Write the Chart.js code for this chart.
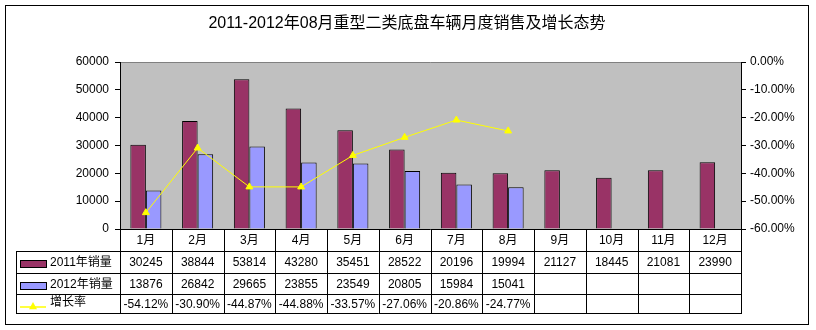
<!DOCTYPE html>
<html>
<head>
<meta charset="utf-8">
<script src="https://cdn.jsdelivr.net/npm/chart.js@4/dist/chart.umd.min.js"></script>
<style>
  html, body { margin: 0; padding: 0; background: #fff; }
  #wrap { width: 816px; height: 330px; }
</style>
</head>
<body>
<div id="wrap"><canvas id="chart" width="816" height="330"></canvas></div>
<script>
// data
const title = '2011-2012年08月重型二类底盘车辆月度销售及增长态势';
const months = ['1月', '2月', '3月', '4月', '5月', '6月', '7月', '8月', '9月', '10月', '11月', '12月'];
const label2011 = '2011年销量';
const label2012 = '2012年销量';
const labelGrowth = '增长率';
const sales2011 = [30245, 38844, 53814, 43280, 35451, 28522, 20196, 19994, 21127, 18445, 21081, 23990];
const sales2012 = [13876, 26842, 29665, 23855, 23549, 20805, 15984, 15041];
const growth = [-54.12, -30.90, -44.87, -44.88, -33.57, -27.06, -20.86, -24.77];

const FONT = '"Liberation Sans", "Noto Sans CJK SC", sans-serif';
const C2011 = '#993366', C2012 = '#9999FF', CLINE = '#FFFF00';

// table rows under the plot (heights in px)
const rowH = [22, 22, 21, 19];
const tableLeft = 16;

function triangle(ctx, x, y, r) {
  ctx.beginPath();
  ctx.moveTo(x, y - r);
  ctx.lineTo(x + r, y + r * 0.8);
  ctx.lineTo(x - r, y + r * 0.8);
  ctx.closePath();
  ctx.fill();
}

const framePlugin = {
  id: 'frame',
  beforeDraw(chart) {
    const { ctx, chartArea: a } = chart;
    ctx.save();
    ctx.fillStyle = '#fff';
    ctx.fillRect(0, 0, chart.width, chart.height);
    ctx.strokeStyle = '#000';
    ctx.lineWidth = 1;
    ctx.strokeRect(5.5, 5.5, 803, 319);
    ctx.fillStyle = '#C0C0C0';
    ctx.fillRect(a.left, a.top, a.right - a.left, a.bottom - a.top);
    ctx.strokeStyle = '#808080';
    ctx.beginPath();
    ctx.moveTo(a.left, a.top + 0.5);
    ctx.lineTo(a.right, a.top + 0.5);
    ctx.stroke();
    // title
    ctx.fillStyle = '#000';
    ctx.font = '16px ' + FONT;
    ctx.textAlign = 'center';
    ctx.textBaseline = 'middle';
    ctx.fillText(title, 407, 24);
    ctx.restore();
  },
  afterDraw(chart) {
    const { ctx, chartArea: a, scales: { x } } = chart;
    const w = (a.right - a.left) / months.length;
    const ys = [a.bottom];
    rowH.forEach(h => ys.push(ys[ys.length - 1] + h));
    const bottom = ys[ys.length - 1];
    ctx.save();
    ctx.strokeStyle = '#000';
    ctx.lineWidth = 1;
    ctx.beginPath();
    ctx.moveTo(a.left, Math.round(ys[0]) + 0.5);
    ctx.lineTo(a.right, Math.round(ys[0]) + 0.5);
    for (let r = 1; r < ys.length; r++) {
      ctx.moveTo(tableLeft, Math.round(ys[r]) + 0.5);
      ctx.lineTo(a.right, Math.round(ys[r]) + 0.5);
    }
    ctx.moveTo(tableLeft + 0.5, ys[1]);
    ctx.lineTo(tableLeft + 0.5, bottom + 1);
    ctx.moveTo(Math.round(a.left) + 0.5, ys[0]);
    ctx.lineTo(Math.round(a.left) + 0.5, bottom + 1);
    months.forEach((m, i) => {
      const xr = Math.round(x.getPixelForValue(i) + w / 2) + 0.5;
      ctx.moveTo(xr, ys[0]);
      ctx.lineTo(xr, bottom + 1);
    });
    ctx.stroke();

    ctx.fillStyle = '#000';
    ctx.font = '12px ' + FONT;
    ctx.textAlign = 'center';
    ctx.textBaseline = 'middle';
    const mid = r => (ys[r] + ys[r + 1]) / 2 + 1;
    months.forEach((m, i) => {
      const cx = x.getPixelForValue(i);
      ctx.fillText(m, cx, mid(0));
      ctx.fillText(String(sales2011[i]), cx, mid(1));
      if (i < sales2012.length) ctx.fillText(String(sales2012[i]), cx, mid(2));
      if (i < growth.length) ctx.fillText(growth[i].toFixed(2) + '%', cx, mid(3));
    });

    // legend keys
    ctx.textAlign = 'left';
    ctx.fillText(label2011, 50, mid(1));
    ctx.fillText(label2012, 50, mid(2));
    ctx.fillText(labelGrowth, 50, mid(3) - 2);
    [[C2011, 1], [C2012, 2]].forEach(([c, r]) => {
      const y = Math.round(mid(r)) - 3;
      ctx.fillStyle = c;
      ctx.fillRect(20, y, 26, 7);
      ctx.strokeRect(20.5, y + 0.5, 26, 7);
    });
    ctx.strokeStyle = CLINE;
    ctx.lineWidth = 1.5;
    ctx.beginPath();
    ctx.moveTo(20, Math.round(mid(3)) + 2);
    ctx.lineTo(46, Math.round(mid(3)) + 2);
    ctx.stroke();
    ctx.fillStyle = CLINE;
    triangle(ctx, 33, Math.round(mid(3)) + 1, 4);
    ctx.restore();
  }
};

new Chart(document.getElementById('chart'), {
  data: {
    labels: months,
    datasets: [
      {
        type: 'line', label: labelGrowth, data: growth, yAxisID: 'y1',
        borderColor: CLINE, backgroundColor: CLINE, borderWidth: 1,
        pointStyle: 'triangle', pointRadius: 4, pointBorderWidth: 1,
        tension: 0, order: 0
      },
      {
        type: 'bar', label: label2011, data: sales2011, yAxisID: 'y',
        backgroundColor: C2011, borderColor: '#000', borderWidth: 1,
        categoryPercentage: 0.6, barPercentage: 1, order: 1
      },
      {
        type: 'bar', label: label2012, data: sales2012, yAxisID: 'y',
        backgroundColor: C2012, borderColor: '#000', borderWidth: 1,
        categoryPercentage: 0.6, barPercentage: 1, order: 1
      }
    ]
  },
  options: {
    responsive: false,
    animation: false,
    devicePixelRatio: 1,
    layout: { padding: { top: 62, bottom: 101, left: 0, right: 0 } },
    plugins: { legend: { display: false }, title: { display: false }, tooltip: { enabled: false } },
    scales: {
      x: { display: false, offset: true },
      y: {
        position: 'left', min: 0, max: 60000,
        ticks: { stepSize: 10000, color: '#000', font: { family: FONT, size: 12 }, padding: 6,
          callback: v => String(v) },
        grid: { drawOnChartArea: false, color: '#000', tickLength: 5 },
        border: { color: '#000' },
        afterFit(s) { s.width = 120; }
      },
      y1: {
        position: 'right', min: -60, max: 0,
        ticks: { stepSize: 10, color: '#000', font: { family: FONT, size: 12 }, padding: 4,
          callback: v => v.toFixed(2) + '%' },
        grid: { drawOnChartArea: false, color: '#000', tickLength: 5 },
        border: { color: '#000' },
        afterFit(s) { s.width = 75; }
      }
    }
  },
  plugins: [framePlugin]
});
</script>
</body>
</html>
